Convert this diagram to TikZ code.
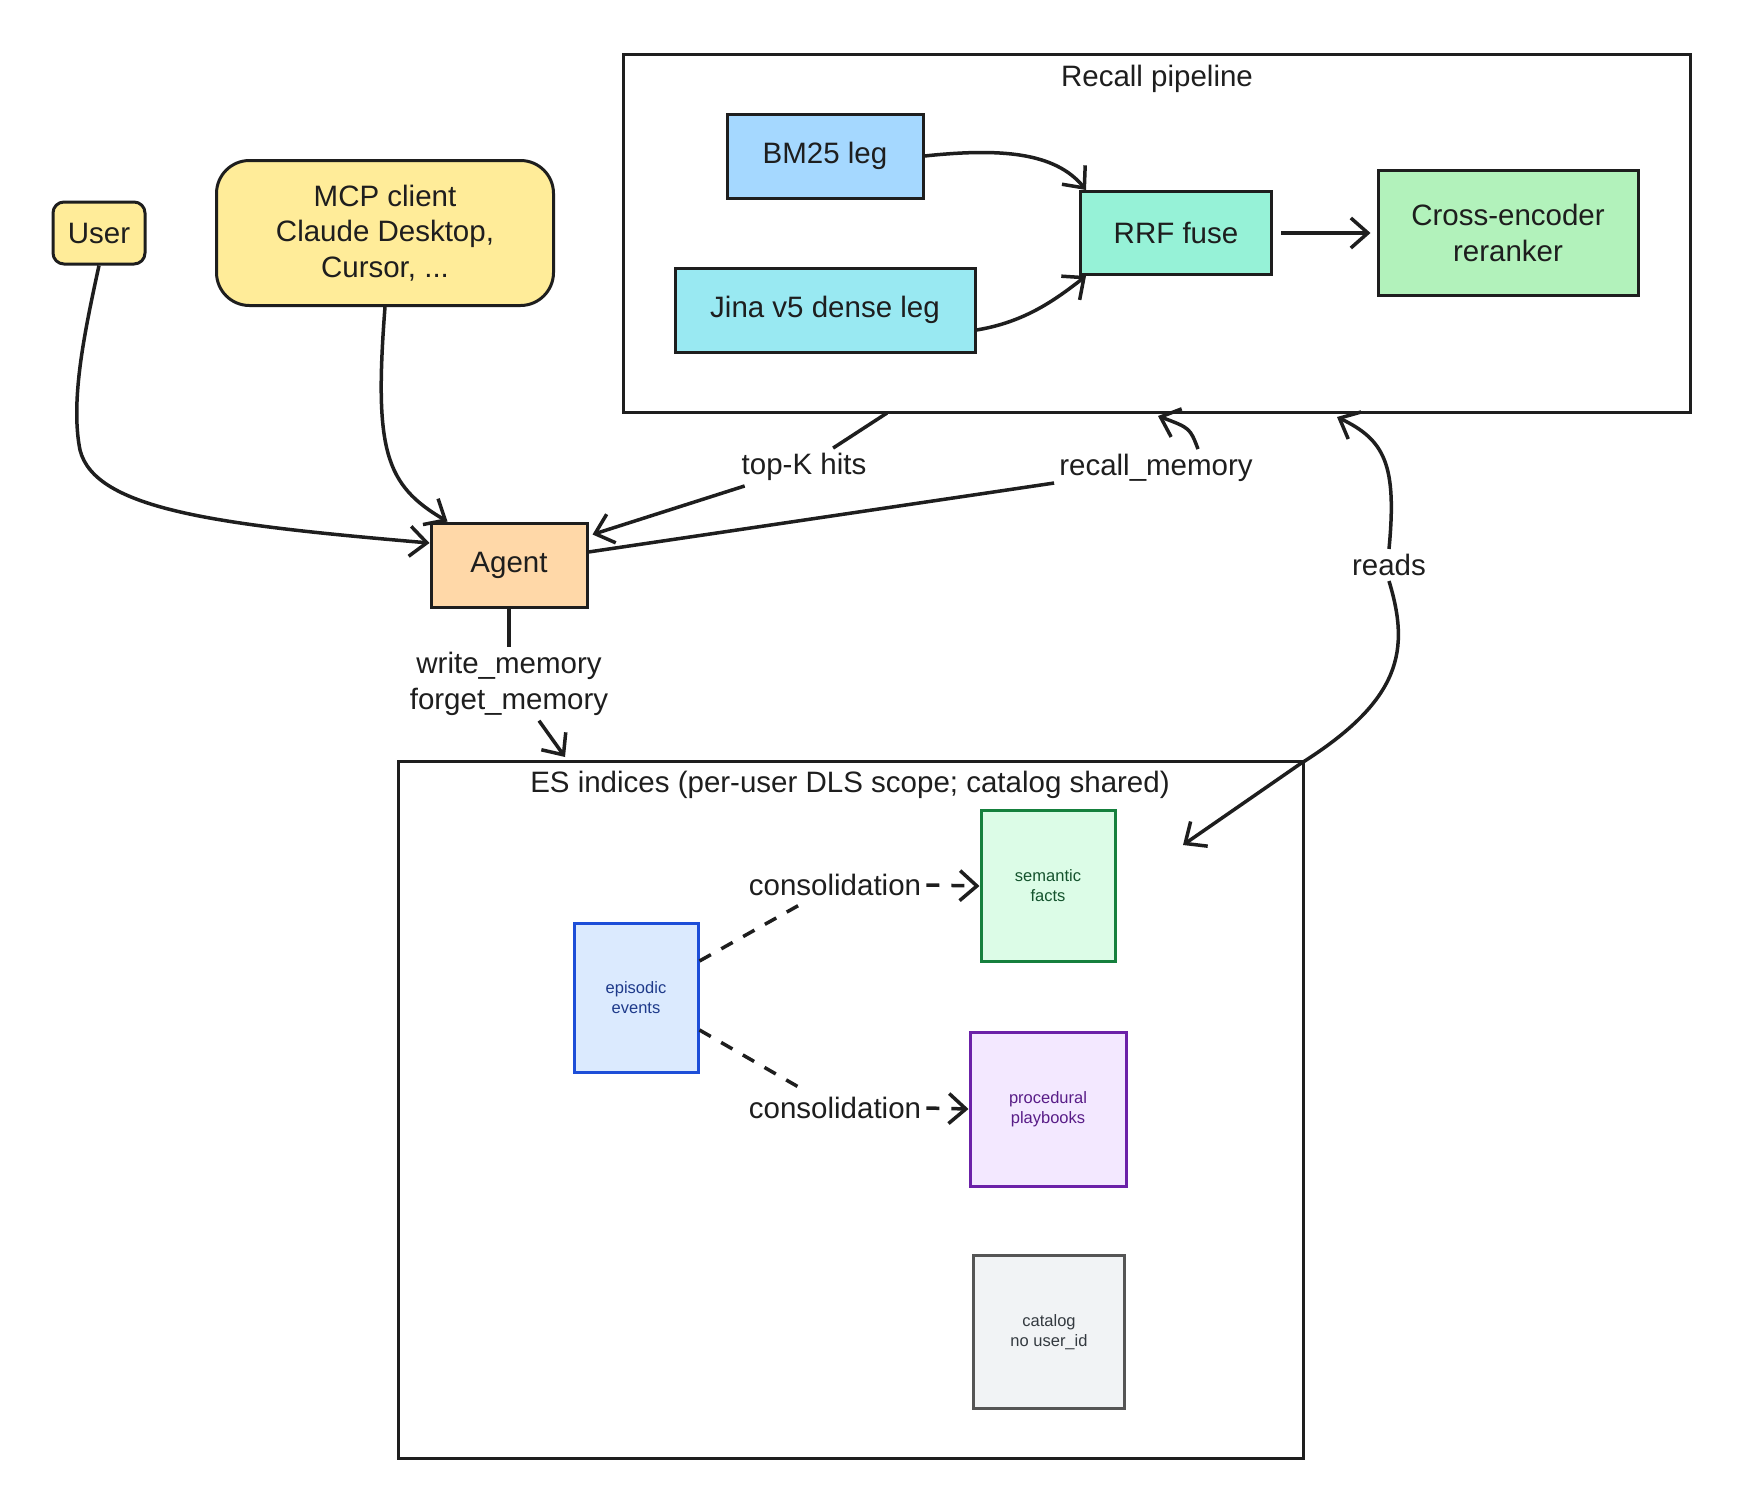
\documentclass[tikz,border=0pt]{standalone}
\usepackage{fontspec}
\setmainfont{Liberation Sans}
\usetikzlibrary{arrows.meta,calc}
\definecolor{ink}{HTML}{1E1E1E}
\definecolor{cyellow}{HTML}{FFEC99}
\definecolor{corange}{HTML}{FFD8A8}
\definecolor{cblue}{HTML}{A5D8FF}
\definecolor{ccyan}{HTML}{99E9F2}
\definecolor{cteal}{HTML}{96F2D7}
\definecolor{cgreen}{HTML}{B2F2BB}
\definecolor{semfill}{HTML}{DCFCE7}
\definecolor{semline}{HTML}{15803D}
\definecolor{semtext}{HTML}{14532D}
\definecolor{epifill}{HTML}{DBEAFE}
\definecolor{epiline}{HTML}{1D4ED8}
\definecolor{epitext}{HTML}{1E3A8A}
\definecolor{profill}{HTML}{F3E8FF}
\definecolor{proline}{HTML}{6B21A8}
\definecolor{protext}{HTML}{581C87}
\definecolor{catfill}{HTML}{F1F3F5}
\definecolor{catline}{HTML}{555555}
\definecolor{cattext}{HTML}{343A40}
\newcommand\fbig{\fontsize{29.5}{35.5}\selectfont}
\newcommand\fsmall{\fontsize{16.5}{20}\selectfont}
\begin{document}
\begin{tikzpicture}[x=1pt,y=-1pt,
  box/.style={draw=ink, line width=3pt, inner sep=0pt, align=center, font=\fbig, text=ink},
  cont/.style={draw=ink, line width=3pt},
  store/.style={line width=3pt, inner sep=0pt, align=center, font=\fsmall},
  lbl/.style={font=\fbig, inner sep=5pt, align=center, text=ink},
  tip/.style={-{Straight Barb[length=17pt,width=30pt,line width=3.5pt]}},
  arr/.style={draw=ink, line width=3.5pt, tip},
  ln/.style={draw=ink, line width=3.5pt},
  dsh/.style={draw=ink, line width=3.5pt, dash pattern=on 13pt off 12pt}
]
\useasboundingbox (0,0) rectangle (1738,1510);
\fill[white] (0,0) rectangle (1738,1510);

% containers
\draw[cont] (623,54) rectangle (1690,412);
\node[font=\fbig, text=ink] (rtitle) at (1157,79) {Recall pipeline};
\draw[cont] (398,761) rectangle (1303,1458);
\node[font=\fbig, text=ink] (estitle) at (850,785) {ES indices (per-user DLS scope; catalog shared)};

% top nodes
\node[box, fill=cyellow, rounded corners=11pt, minimum width=92pt, minimum height=62pt] (user) at (99,233) {User};
\node[box, fill=cyellow, rounded corners=33pt, minimum width=337pt, minimum height=145pt] (mcp) at (385,233) {MCP client\\Claude Desktop,\\Cursor, ...};
\node[box, fill=corange, minimum width=156pt, minimum height=84pt] (agent) at (509,565) {Agent};

% pipeline nodes
\node[box, fill=cblue, minimum width=196pt, minimum height=84pt] (bm25) at (825,156) {BM25 leg};
\node[box, fill=ccyan, minimum width=300pt, minimum height=84pt] (jina) at (825,310) {Jina v5 dense leg};
\node[box, fill=cteal, minimum width=191pt, minimum height=83pt] (rrf) at (1176,233) {RRF fuse};
\node[box, fill=cgreen, minimum width=260pt, minimum height=125pt] (cross) at (1508,233) {Cross-encoder\\reranker};

% store nodes
\node[store, draw=semline, fill=semfill, text=semtext, minimum width=134pt, minimum height=151pt] (sem) at (1048,886) {semantic\\facts};
\node[store, draw=epiline, fill=epifill, text=epitext, minimum width=124pt, minimum height=149pt] (epi) at (636,998) {episodic\\events};
\node[store, draw=proline, fill=profill, text=protext, minimum width=156pt, minimum height=154pt] (proc) at (1048,1109) {procedural\\playbooks};
\node[store, draw=catline, fill=catfill, text=cattext, minimum width=151pt, minimum height=153pt] (cat) at (1049,1332) {catalog\\no user\_id};

% edge labels
\node[lbl] (ltopk) at (804,467) {top-K hits};
\node[lbl] (lrecall) at (1156,468) {recall\_memory};
\node[lbl] (lwrite) at (509,684) {write\_memory\\forget\_memory};
\node[lbl] (lreads) at (1389,565) {reads};
\node[lbl] (lcons1) at (835,885) {consolidation};
\node[lbl] (lcons2) at (835,1108) {consolidation};

% helper coordinates
\coordinate (pipeK) at (887,413);
\coordinate (pipeR) at (1158,416);
\coordinate (pipeD) at (1337,417);
\coordinate (esW) at (565,757);
\coordinate (esR) at (1183,845);

% connectors
\draw[arr] (user.south) .. controls (85,330) and (70,400) .. (80,450) .. controls (95,510) and (220,525) .. ([yshift=22pt]agent.west);
\draw[arr] (mcp.south) .. controls (374,450) and (385,485) .. ([xshift=18pt]agent.north west);

\draw[ln] (pipeK) -- (ltopk);
\draw[arr] (ltopk) -- ([xshift=4pt,yshift=-13pt]agent.north east);

\draw[ln] ([yshift=13pt]agent.east) -- (lrecall);
\draw[arr] ([xshift=42pt]lrecall.north) .. controls (1190,428) .. (pipeR);

\draw[ln] (agent.south) -- (lwrite);
\draw[arr] ([xshift=30pt]lwrite.south) -- (esW);

\draw[arr] (lreads.north) .. controls (1397,465) and (1385,440) .. (pipeD);
\draw[arr] (lreads.south) .. controls (1410,650) and (1402,700) .. (1300,764) -- (esR);

\draw[arr] (bm25.east) .. controls (1000,148) and (1055,152) .. ([xshift=7pt]rrf.north west);
\draw[arr] ([yshift=-20pt]jina.east) .. controls (1025,322) and (1055,300) .. ([xshift=7pt]rrf.south west);
\draw[arr] ([xshift=8pt]rrf.east) -- ([xshift=-6pt]cross.west);

\draw[dsh] ([yshift=-39pt]epi.north east) -- (lcons1);
\draw[dsh, tip] (lcons1.east) -- (sem.west);
\draw[dsh] ([yshift=-108pt]epi.north east) -- (lcons2);
\draw[dsh, tip] (lcons2.east) -- (proc.west);
\end{tikzpicture}
\end{document}
